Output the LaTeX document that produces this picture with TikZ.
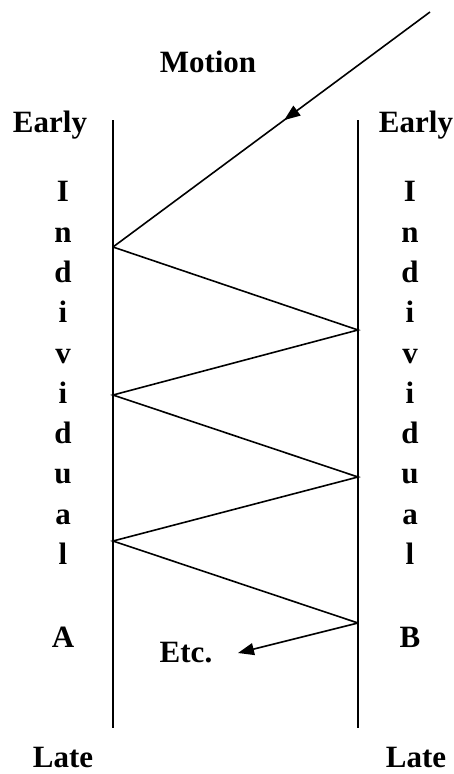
\documentclass[tikz,border=0pt]{standalone}
\usepackage{fontspec}
\setmainfont{Liberation Serif}
\usetikzlibrary{arrows.meta, positioning, decorations.markings}
\tikzset{
  label/.style  = {font=\fontsize{31}{36}\selectfont\bfseries, inner sep=0pt, anchor=base},
  timeline/.style = {line width=2.6pt},
  signal/.style = {line width=1.6pt},
  midarrow/.style = {postaction={decorate}, decoration={markings,
                     mark=at position 0.46 with {\arrow{Triangle[length=16pt, width=12pt]}}}},
  arrow/.style  = {-{Triangle[length=16pt, width=12pt]}, signal},
}

\begin{document}
\begin{tikzpicture}[x=1pt, y=-1pt]
  \useasboundingbox (0,0) rectangle (454,774);
  % time lines of the two individuals
  \coordinate (atop) at (113,120); \coordinate (abot) at (113,728);
  \coordinate (btop) at (358,120); \coordinate (bbot) at (358,728);
  \draw[timeline] (atop)--(abot);
  \draw[timeline] (btop)--(bbot);
  % bounce points
  \coordinate (start) at (430,12);
  \coordinate (a1) at (113,247); \coordinate (b1) at (358,330);
  \coordinate (a2) at (113,395); \coordinate (b2) at (358,477);
  \coordinate (a3) at (113,541); \coordinate (b3) at (358,623);
  \coordinate (tip) at (238,653);
  \node[label] (etc) at (186,662) {Etc.};
  \draw[signal, midarrow] (start)--(a1);
  \draw[signal] (a1)--(b1)--(a2)--(b2)--(a3)--(b3);
  \draw[arrow] (b3)--(tip);
  % labels
  \node[label] (motion) at (208,72) {Motion};
  \node[label] (earlyA) at (50,132) {Early};
  \node[label] (earlyB) at (416,132) {Early};
  \node[label] (lateA) at (63,767) {Late};
  \node[label] (lateB) at (416,767) {Late};
  \foreach \ch [count=\i] in {I,n,d,i,v,i,d,u,a,l} {
    \node[label] (indA\i) at (63,{161.5+40.3*\i}) {\ch};
    \node[label] (indB\i) at (410,{161.5+40.3*\i}) {\ch};
  }
  \node[label] (nameA) at (63,647) {A};
  \node[label] (nameB) at (410,647) {B};
\end{tikzpicture}
\end{document}
